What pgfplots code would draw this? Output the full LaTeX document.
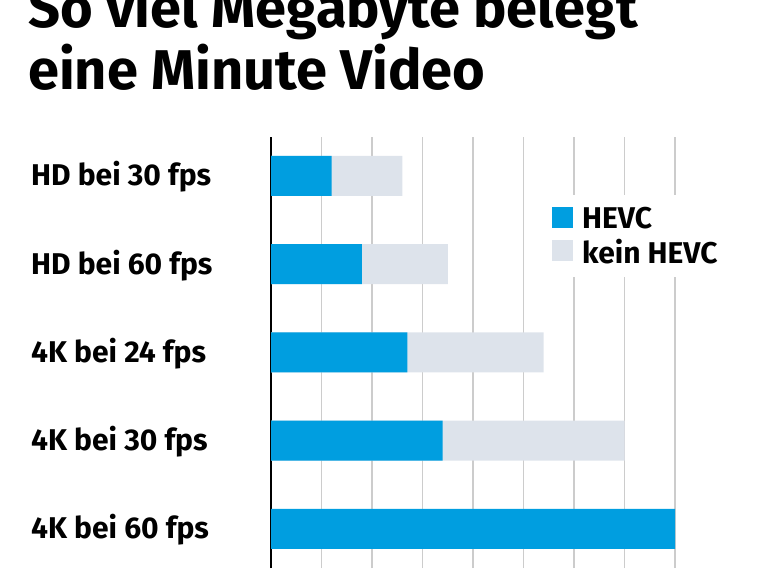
\documentclass[border=0pt]{standalone}
\usepackage{fontspec}
\setmainfont{Fira Sans}
\usepackage{pgfplots}
\pgfplotsset{compat=1.18}

\definecolor{hevc}{HTML}{009EE0}
\definecolor{keinhevc}{HTML}{DDE3EB}
\definecolor{gridgrey}{HTML}{CCCCCC}

\begin{document}
\begin{tikzpicture}
\path[use as bounding box] (0bp,0bp) rectangle (770bp,578bp);
\node[anchor=base west, inner sep=0pt, font=\fontsize{56bp}{60bp}\selectfont\bfseries]
  at (28bp,550bp) {So viel Megabyte belegt};
\node[anchor=base west, inner sep=0pt, font=\fontsize{56bp}{60bp}\selectfont\bfseries]
  at (28bp,488bp) {eine Minute Video};
\begin{axis}[
    at={(271bp,10bp)}, anchor=south west,
    scale only axis,
    width=404bp, height=431bp,
    xbar, bar width=40bp, bar shift=0pt,
    xmin=0, xmax=400,
    ymin=-0.442, ymax=4.442,
    xtick={0,50,...,400}, xticklabels={},
    xmajorgrids, grid style={gridgrey, line width=1.2bp},
    major tick length=0pt,
    axis x line*=bottom, x axis line style={draw=none},
    axis y line*=left, y axis line style={black, line width=1.2bp, -},
    ytick={0,1,2,3,4},
    yticklabels={4K bei 60 fps, 4K bei 30 fps, 4K bei 24 fps, HD bei 60 fps, HD bei 30 fps},
    yticklabel style={anchor=base west, xshift=-240bp, yshift=-10bp, inner sep=0pt,
      font=\fontsize{30bp}{32bp}\selectfont\bfseries},
    reverse legend,
    legend cell align=left,
    legend image code/.code={\fill[#1] (0bp,-9bp) rectangle (21bp,12bp);},
    legend style={at={(0.678,0.865)}, anchor=north west, draw=none, fill=white,
      font=\fontsize{30bp}{32bp}\selectfont\bfseries,
      inner xsep=7bp, inner ysep=10bp, row sep=5bp,
      /tikz/every odd column/.append style={column sep=7bp}},
]
\addplot[draw=none, fill=keinhevc] coordinates {(130,4) (175,3) (270,2) (350,1)};
\addlegendentry{kein HEVC}
\addplot[draw=none, fill=hevc] coordinates {(60,4) (90,3) (135,2) (170,1) (400,0)};
\addlegendentry{HEVC}
\end{axis}
\end{tikzpicture}
\end{document}
